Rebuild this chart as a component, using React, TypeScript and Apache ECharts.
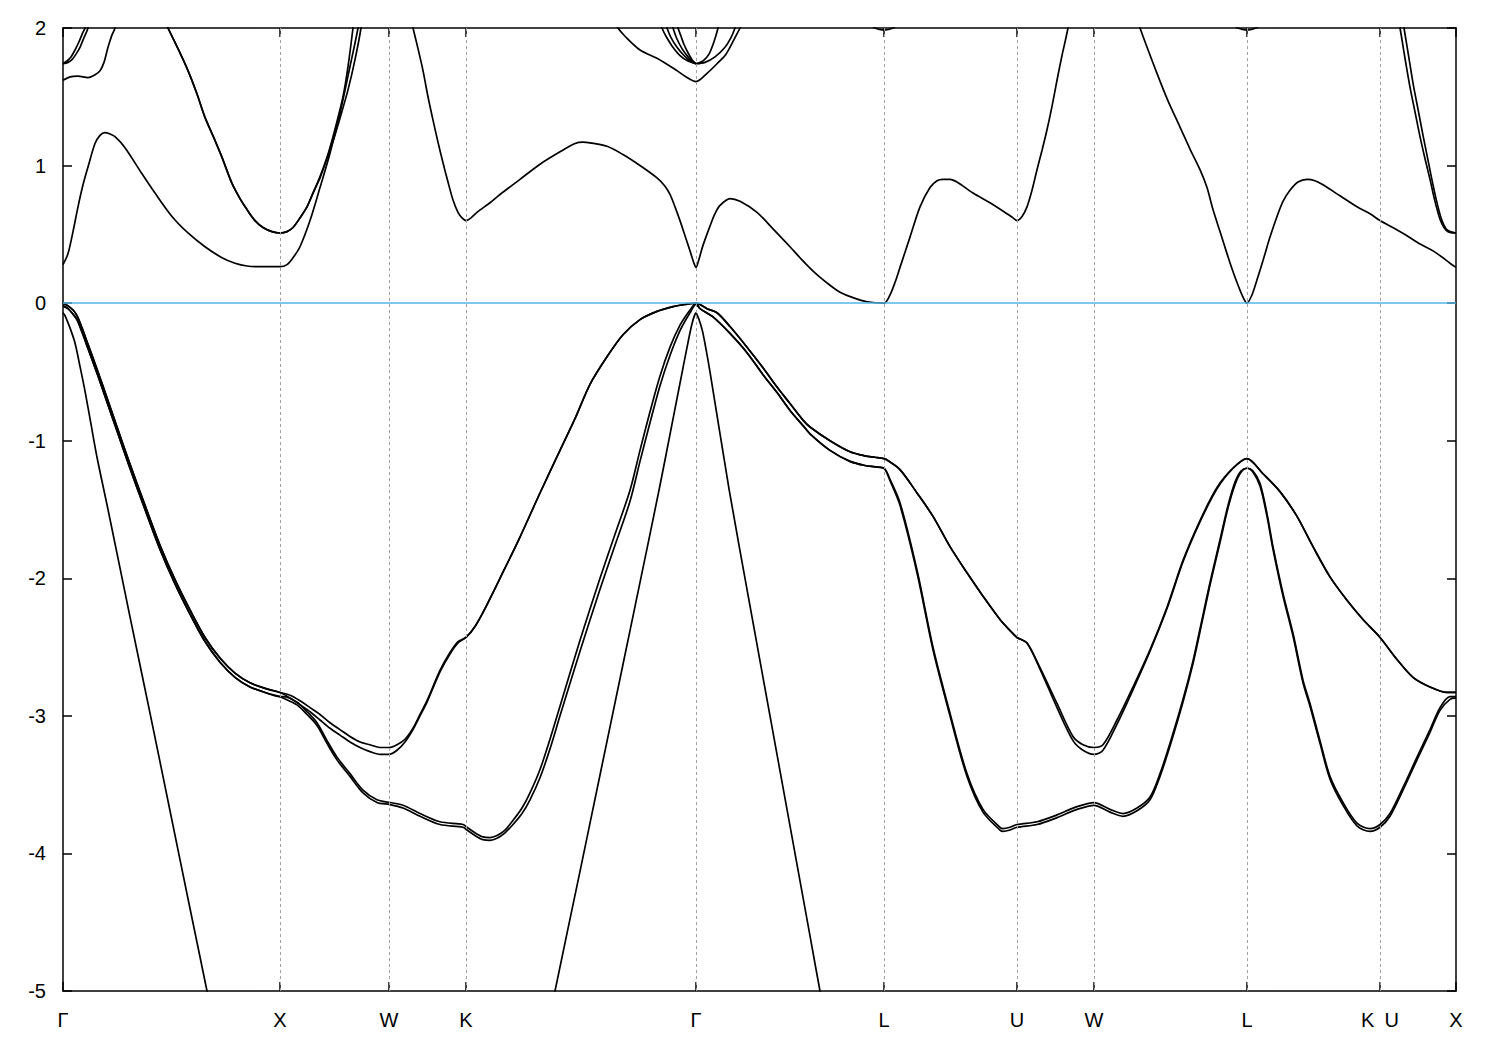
import React, { useEffect, useRef } from 'react';
import * as echarts from 'echarts';

// High-symmetry points (k-point index along the path) and their labels
const symPoints = [0, 217, 326, 403, 633, 821, 954, 1031, 1184, 1317, 1393];
const symLabels = ['Γ', 'X', 'W', 'K', 'Γ', 'L', 'U', 'W', 'L', 'K\u2002U', 'X'];

// ---------- Valence bands (segments: [k-index, energy eV]) ----------
const gxUpper = [[0,0],[5,-0.02],[10,-0.05],[14,-0.09],[19,-0.18],[25,-0.3],[35,-0.5],[45,-0.71],[55,-0.92],[65,-1.13],[82,-1.47],[97,-1.76],[112,-2.01],[127,-2.23],[142,-2.43],[157,-2.58],[172,-2.69],[187,-2.76],[202,-2.8],[217,-2.83]];
const gxLower = [[0,-0.02],[5,-0.04],[10,-0.08],[14,-0.12],[19,-0.21],[25,-0.33],[35,-0.53],[45,-0.74],[55,-0.95],[65,-1.16],[82,-1.5],[97,-1.79],[112,-2.04],[127,-2.26],[142,-2.46],[157,-2.61],[172,-2.72],[187,-2.79],[202,-2.83],[217,-2.86]];
const xwA = [[227,-2.85],[237,-2.89],[247,-2.94],[257,-2.99],[267,-3.05],[277,-3.1],[287,-3.15],[297,-3.19],[307,-3.21],[317,-3.23],[326,-3.23],[334,-3.21],[342,-3.17],[350,-3.09],[357,-2.99],[364,-2.89],[377,-2.67],[387,-2.54],[395,-2.46],[403,-2.43]];
const xwB = [[227,-2.87],[237,-2.92],[247,-2.97],[257,-3.03],[267,-3.09],[277,-3.14],[287,-3.19],[297,-3.23],[307,-3.26],[317,-3.28],[326,-3.28],[334,-3.25],[342,-3.19],[350,-3.1],[357,-3.0],[364,-2.9],[377,-2.68],[387,-2.55],[395,-2.47],[403,-2.43]];
const kgBroad = [[412,-2.35],[422,-2.22],[437,-2.0],[457,-1.7],[477,-1.38],[497,-1.07],[512,-0.84],[527,-0.59],[544,-0.39],[560,-0.23],[577,-0.12],[594,-0.06],[610,-0.025],[622,-0.01],[633,0]];
const xwkgC1 = [[220,-2.86],[234,-2.9],[244,-2.97],[254,-3.05],[264,-3.18],[274,-3.3],[287,-3.42],[300,-3.54],[314,-3.61],[327,-3.63],[340,-3.65],[357,-3.71],[377,-3.77],[400,-3.79],[404,-3.81],[412,-3.85],[420,-3.88],[427,-3.885],[434,-3.87],[442,-3.83],[450,-3.76],[459,-3.67],[467,-3.56],[477,-3.39],[487,-3.17],[497,-2.93],[517,-2.45],[537,-2.0],[552,-1.68],[567,-1.36],[577,-1.07],[587,-0.79],[597,-0.53],[607,-0.32],[617,-0.16],[627,-0.05],[633,0]];
const xwkgC2 = [[220,-2.87],[234,-2.92],[244,-2.99],[254,-3.07],[264,-3.2],[274,-3.32],[287,-3.44],[300,-3.56],[314,-3.63],[327,-3.645],[340,-3.67],[357,-3.73],[377,-3.79],[400,-3.81],[404,-3.83],[412,-3.87],[420,-3.9],[427,-3.905],[434,-3.89],[442,-3.85],[450,-3.79],[459,-3.71],[467,-3.61],[477,-3.45],[487,-3.24],[497,-3.0],[517,-2.53],[537,-2.08],[552,-1.76],[567,-1.44],[577,-1.15],[587,-0.87],[597,-0.6],[607,-0.38],[617,-0.2],[627,-0.07],[633,-0.01]];
const glUpper = [[637,-0.01],[644,-0.04],[654,-0.07],[667,-0.17],[684,-0.32],[700,-0.47],[714,-0.61],[727,-0.73],[740,-0.85],[747,-0.9],[767,-1.0],[787,-1.08],[802,-1.11],[812,-1.12],[821,-1.13]];
const glLower = [[637,-0.04],[650,-0.1],[667,-0.22],[684,-0.36],[700,-0.52],[714,-0.65],[727,-0.78],[740,-0.89],[747,-0.95],[767,-1.07],[787,-1.15],[802,-1.18],[812,-1.19],[821,-1.2]];
const luwlUpper = [[824,-1.14],[837,-1.21],[854,-1.38],[870,-1.55],[887,-1.77],[904,-1.96],[920,-2.13],[937,-2.3],[947,-2.38],[954,-2.43],[964,-2.47],[977,-2.65],[994,-2.91],[1010,-3.15],[1020,-3.21],[1031,-3.23],[1040,-3.21],[1054,-3.03],[1070,-2.79],[1087,-2.52],[1104,-2.21],[1120,-1.87],[1137,-1.58],[1154,-1.34],[1170,-1.2],[1184,-1.13]];
const luwlUpper2 = [[824,-1.14],[837,-1.21],[854,-1.38],[870,-1.55],[887,-1.77],[904,-1.96],[920,-2.13],[937,-2.3],[947,-2.38],[954,-2.43],[964,-2.47],[977,-2.66],[994,-2.94],[1010,-3.18],[1020,-3.25],[1031,-3.28],[1040,-3.25],[1054,-3.06],[1070,-2.81],[1087,-2.53],[1104,-2.22],[1120,-1.88],[1137,-1.59],[1154,-1.35],[1170,-1.2],[1184,-1.13]];
const luwlLower = [[821,-1.2],[827,-1.28],[837,-1.45],[854,-1.94],[870,-2.5],[887,-2.98],[904,-3.42],[920,-3.68],[937,-3.81],[940,-3.82],[947,-3.81],[954,-3.79],[974,-3.77],[994,-3.72],[1014,-3.66],[1031,-3.63],[1047,-3.68],[1060,-3.71],[1074,-3.67],[1087,-3.59],[1097,-3.42],[1107,-3.2],[1120,-2.88],[1130,-2.6],[1139,-2.3],[1147,-2.03],[1157,-1.72],[1165,-1.47],[1172,-1.3],[1178,-1.22],[1184,-1.2]];
const luwlLower2 = [[821,-1.2],[827,-1.29],[837,-1.47],[854,-1.96],[870,-2.52],[887,-3.0],[904,-3.44],[920,-3.7],[937,-3.83],[940,-3.84],[947,-3.83],[954,-3.81],[974,-3.79],[994,-3.74],[1014,-3.68],[1031,-3.65],[1047,-3.7],[1060,-3.73],[1074,-3.69],[1087,-3.61],[1097,-3.44],[1107,-3.22],[1120,-2.9],[1130,-2.62],[1139,-2.32],[1147,-2.05],[1157,-1.74],[1165,-1.49],[1172,-1.32],[1178,-1.23],[1184,-1.2]];
const lkxUpper = [[1200,-1.24],[1217,-1.37],[1234,-1.55],[1250,-1.77],[1267,-1.99],[1284,-2.16],[1300,-2.3],[1317,-2.43],[1334,-2.59],[1350,-2.72],[1367,-2.79],[1384,-2.83],[1393,-2.83]];
const lkxLower = [[1190,-1.22],[1197,-1.31],[1204,-1.53],[1210,-1.77],[1220,-2.11],[1230,-2.4],[1240,-2.74],[1247,-2.91],[1257,-3.18],[1267,-3.44],[1280,-3.63],[1294,-3.78],[1307,-3.82],[1317,-3.79],[1327,-3.71],[1340,-3.52],[1354,-3.3],[1367,-3.1],[1377,-2.94],[1387,-2.86],[1393,-2.86]];
const lkxLower2 = [[1190,-1.23],[1197,-1.33],[1204,-1.55],[1210,-1.79],[1220,-2.13],[1230,-2.42],[1240,-2.76],[1247,-2.93],[1257,-3.2],[1267,-3.46],[1280,-3.65],[1294,-3.8],[1307,-3.84],[1317,-3.81],[1327,-3.73],[1340,-3.54],[1354,-3.32],[1367,-3.12],[1377,-2.96],[1387,-2.88],[1393,-2.87]];
const soLeft = [[0,-0.07],[2,-0.09],[7,-0.18],[12,-0.29],[17,-0.46],[22,-0.64],[28,-0.88],[34,-1.12],[45,-1.5],[67,-2.28],[87,-2.98],[107,-3.69],[127,-4.4],[144,-5.0],[152,-5.3]];
const soCenter = [[484,-5.3],[492,-5.0],[517,-4.13],[537,-3.43],[557,-2.73],[577,-2.03],[596,-1.36],[609,-0.88],[620,-0.47],[626,-0.25],[629,-0.15],[631,-0.1],[633,-0.07],[635,-0.1],[637,-0.14],[640,-0.22],[647,-0.5],[666,-1.35],[687,-2.2],[707,-3.0],[727,-3.8],[747,-4.6],[757,-5.0],[765,-5.3]];

// ---------- Conduction bands ----------
const c1 = [[0,0.28],[5,0.36],[10,0.52],[15,0.7],[20,0.86],[25,0.99],[32,1.16],[37,1.22],[42,1.24],[47,1.23],[52,1.21],[62,1.13],[79,0.94],[92,0.8],[109,0.63],[125,0.51],[142,0.41],[159,0.33],[172,0.29],[184,0.27],[197,0.265],[217,0.265],[224,0.28],[230,0.33],[237,0.41],[247,0.6],[257,0.84],[267,1.09],[277,1.38],[287,1.72],[295,2.0],[299,2.2]];
const c2a = [[102,2.05],[105,2.0],[115,1.85],[125,1.69],[134,1.52],[142,1.35],[151,1.2],[159,1.06],[169,0.87],[177,0.76],[184,0.68],[192,0.6],[200,0.55],[209,0.52],[217,0.51],[224,0.52],[230,0.55],[237,0.62],[244,0.7],[250,0.8],[257,0.92],[264,1.06],[270,1.21],[275,1.35],[280,1.5],[285,1.72],[290,2.0],[293,2.2]];
const c2b = [[102,2.05],[105,2.0],[115,1.85],[125,1.69],[134,1.52],[142,1.35],[151,1.2],[159,1.06],[169,0.87],[177,0.76],[184,0.68],[192,0.6],[200,0.55],[209,0.52],[217,0.51],[224,0.52],[230,0.55],[237,0.62],[244,0.7],[250,0.8],[257,0.91],[264,1.05],[271,1.2],[278,1.37],[285,1.55],[292,1.77],[298,2.0],[301,2.2]];
const c3 = [[347,2.1],[350,2.0],[355,1.85],[360,1.69],[365,1.5],[370,1.33],[375,1.17],[380,1.02],[385,0.88],[390,0.75],[395,0.66],[399,0.62],[403,0.6],[408,0.62],[414,0.66],[427,0.73],[437,0.79],[457,0.9],[477,1.01],[497,1.1],[512,1.16],[520,1.17],[527,1.165],[544,1.14],[560,1.08],[577,1.0],[594,0.91],[602,0.85],[607,0.79],[612,0.7],[617,0.6],[622,0.49],[627,0.38],[631,0.29],[633,0.26],[636,0.32],[640,0.42],[647,0.56],[652,0.65],[657,0.71],[667,0.76],[677,0.74],[694,0.66],[710,0.54],[727,0.41],[737,0.33],[752,0.22],[767,0.13],[777,0.08],[790,0.04],[804,0.01],[821,0.0],[827,0.06],[832,0.15],[837,0.26],[847,0.48],[857,0.7],[867,0.84],[874,0.89],[880,0.9],[887,0.9],[894,0.88],[910,0.8],[927,0.73],[944,0.65],[950,0.62],[954,0.6],[959,0.63],[964,0.7],[969,0.82],[974,0.97],[979,1.11],[984,1.26],[989,1.43],[994,1.62],[999,1.8],[1005,2.0],[1008,2.15]];
const c4 = [[1073,2.1],[1077,2.0],[1094,1.67],[1105,1.47],[1117,1.28],[1127,1.12],[1137,0.97],[1144,0.84],[1150,0.68],[1157,0.52],[1164,0.36],[1169,0.25],[1174,0.15],[1179,0.06],[1184,0.0],[1189,0.06],[1194,0.17],[1200,0.31],[1207,0.48],[1214,0.63],[1220,0.74],[1227,0.82],[1235,0.88],[1244,0.9],[1252,0.89],[1260,0.86],[1277,0.78],[1294,0.7],[1307,0.65],[1317,0.6],[1332,0.54],[1344,0.49],[1357,0.43],[1370,0.38],[1380,0.33],[1387,0.29],[1393,0.26]];
const c5a = [[1334,2.1],[1337,2.0],[1342,1.78],[1347,1.57],[1352,1.39],[1357,1.21],[1362,1.05],[1367,0.9],[1372,0.74],[1377,0.61],[1381,0.55],[1385,0.52],[1393,0.51]];
const c5b = [[1339,2.1],[1341,2.0],[1346,1.78],[1350,1.6],[1355,1.41],[1360,1.22],[1365,1.04],[1370,0.86],[1375,0.7],[1379,0.6],[1383,0.54],[1387,0.52],[1393,0.51]];
const t1 = [[0,1.62],[7,1.645],[15,1.65],[25,1.64],[32,1.66],[37,1.69],[41,1.75],[45,1.86],[49,1.95],[52,2.0],[54,2.1]];
const t2 = [[0,1.74],[5,1.75],[9,1.77],[13,1.81],[17,1.86],[21,1.93],[25,2.0],[27,2.1]];
const t3 = [[0,1.74],[4,1.76],[8,1.79],[12,1.84],[16,1.9],[20,1.97],[22,2.0],[24,2.1]];
const t4 = [[552,2.05],[555,2.0],[562,1.94],[577,1.84],[594,1.78],[614,1.69],[624,1.64],[633,1.61],[644,1.67],[654,1.74],[662,1.8],[667,1.86],[672,1.93],[677,2.0],[680,2.05]];
const t5 = [[597,2.05],[599,2.0],[603,1.94],[609,1.87],[617,1.8],[625,1.76],[633,1.74]];
const t6 = [[602,2.05],[604,2.0],[608,1.93],[614,1.86],[621,1.8],[627,1.76],[633,1.74]];
const t7 = [[608,2.05],[610,2.0],[614,1.92],[619,1.85],[625,1.79],[629,1.76],[633,1.74]];
const t8 = [[613,2.05],[615,2.0],[618,1.94],[621,1.88],[625,1.82],[629,1.77],[633,1.74]];
const t9 = [[633,1.74],[640,1.76],[646,1.81],[651,1.9],[655,2.0],[656,2.05]];
const t10 = [[633,1.74],[642,1.75],[652,1.79],[662,1.86],[668,1.93],[672,2.0],[674,2.05]];
const tL1 = [[803,2.05],[812,2.0],[821,1.985],[830,2.0],[839,2.05]];
const tL2 = [[1166,2.05],[1175,2.0],[1184,1.985],[1193,2.0],[1202,2.05]];

const bands: number[][][] = [
  [...gxUpper, ...xwA, ...kgBroad, ...glUpper, ...luwlUpper, ...lkxUpper],
  [...gxUpper, ...xwB, ...kgBroad, ...glUpper, ...luwlUpper2, ...lkxUpper],
  [...gxLower, ...xwkgC1, ...glLower, ...luwlLower, ...lkxLower],
  [...gxLower, ...xwkgC2, ...glLower, ...luwlLower2, ...lkxLower2],
  soLeft, soCenter,
  c1, c2a, c2b, c3, c4, c5a, c5b,
  t1, t2, t3, t4, t5, t6, t7, t8, t9, t10, tL1, tL2,
];

const FONT = '"Liberation Sans", Arial, Helvetica, sans-serif';

export default function App() {
  const ref = useRef<HTMLDivElement>(null);
  useEffect(() => {
    if (!ref.current) return;
    const chart = echarts.init(ref.current, null, { renderer: 'svg' });
    const axisLineStyle = { color: '#000', width: 1.5 };
    const labelFor = (v: number) => {
      const i = symPoints.indexOf(v);
      return i >= 0 ? symLabels[i] : '';
    };
    const bandSeries = bands.map((d, i) => ({
      type: 'line',
      name: 'band' + i,
      data: d,
      showSymbol: false,
      symbol: 'none',
      smooth: 0.3,
      clip: true,
      z: 4,
      lineStyle: { color: '#000', width: 1.7 },
      silent: true,
    }));
    const option: any = {
      animation: false,
      backgroundColor: '#ffffff',
      textStyle: { fontFamily: FONT },
      grid: { left: 63, right: 44, top: 28, bottom: 59, containLabel: false },
      xAxis: [
        {
          type: 'value', min: 0, max: 1393, position: 'bottom',
          axisLine: { show: true, onZero: false, lineStyle: axisLineStyle },
          axisTick: { show: true, inside: true, length: 9, customValues: symPoints, lineStyle: axisLineStyle },
          axisLabel: { show: true, customValues: symPoints, formatter: labelFor, margin: 19, fontSize: 20, color: '#000', fontFamily: FONT },
          splitLine: { show: false },
        },
        {
          type: 'value', min: 0, max: 1393, position: 'top',
          axisLine: { show: true, onZero: false, lineStyle: axisLineStyle },
          axisTick: { show: true, inside: true, length: 9, customValues: symPoints, lineStyle: axisLineStyle },
          axisLabel: { show: false },
          splitLine: { show: false },
        },
      ],
      yAxis: [
        {
          type: 'value', min: -5, max: 2, interval: 1, position: 'left',
          axisLine: { show: true, onZero: false, lineStyle: axisLineStyle },
          axisTick: { show: true, inside: true, length: 9, lineStyle: axisLineStyle },
          axisLabel: { show: true, margin: 17, fontSize: 20, color: '#000', fontFamily: FONT },
          splitLine: { show: false },
        },
        {
          type: 'value', min: -5, max: 2, interval: 1, position: 'right',
          axisLine: { show: true, onZero: false, lineStyle: axisLineStyle },
          axisTick: { show: true, inside: true, length: 9, lineStyle: axisLineStyle },
          axisLabel: { show: false },
          splitLine: { show: false },
        },
      ],
      series: [
        {
          type: 'line', data: [], silent: true, z: 1,
          markLine: {
            silent: true, symbol: ['none', 'none'], animation: false,
            label: { show: false },
            lineStyle: { type: [3, 3], color: '#a0a0a0', width: 1 },
            data: symPoints.slice(1, -1).map((v) => ({ xAxis: v })),
          },
        },
        ...bandSeries,
        {
          type: 'line', data: [], silent: true, z: 6,
          markLine: {
            silent: true, symbol: ['none', 'none'], animation: false,
            label: { show: false },
            lineStyle: { type: 'solid', color: '#56b4e9', width: 1.5 },
            data: [{ yAxis: 0 }],
          },
        },
      ],
    };
    chart.setOption(option);
    return () => chart.dispose();
  }, []);
  return (
    <div
      ref={ref}
      style={{ position: 'absolute', left: 0, top: 0, width: 1500, height: 1050, background: '#fff' }}
    />
  );
}
